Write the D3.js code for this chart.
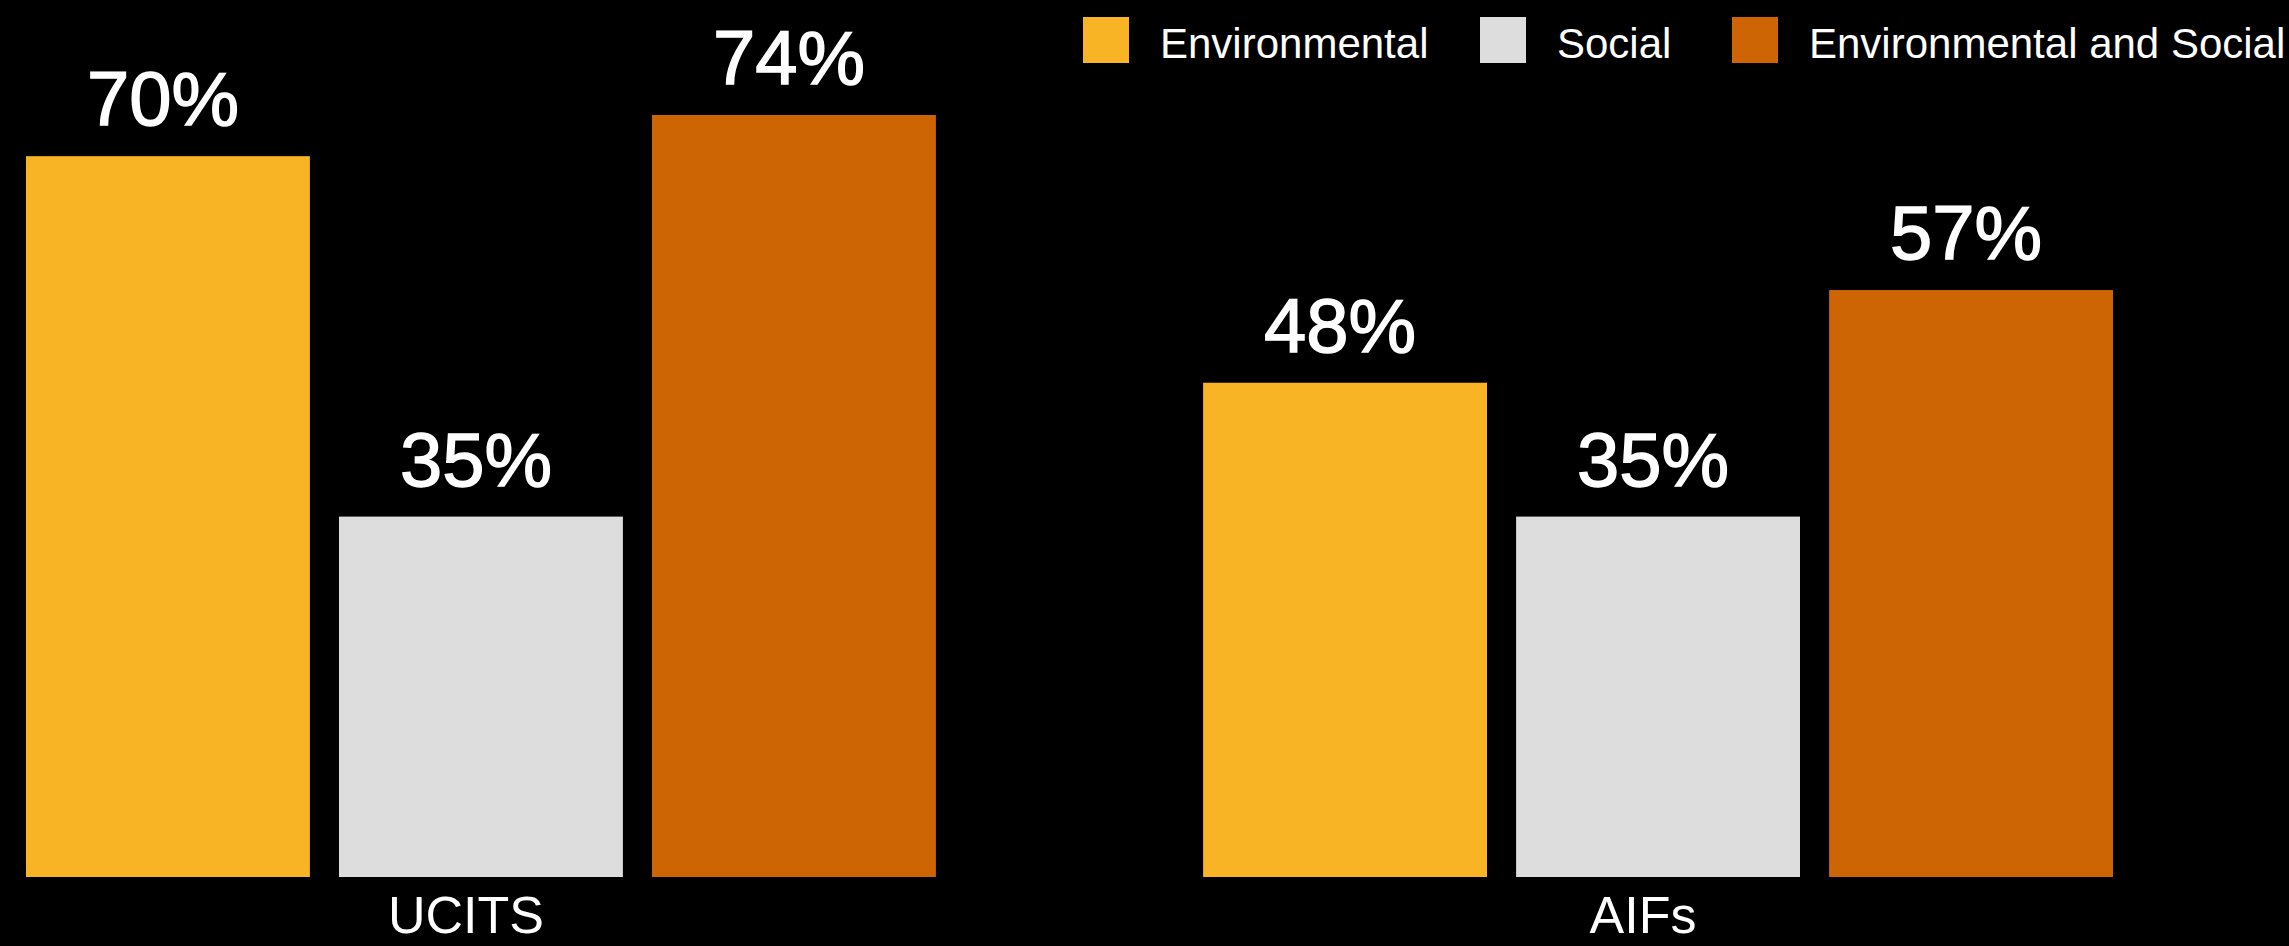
<!DOCTYPE html>
<html>
<head>
<meta charset="utf-8">
<script src="https://cdn.jsdelivr.net/npm/d3@7"></script>
<style>
  html, body { margin: 0; padding: 0; background: #000; }
  svg { display: block; }
  text { font-family: "Helvetica Neue", Helvetica, "Liberation Sans", Arial, sans-serif; fill: #fff; }
</style>
</head>
<body>
<svg id="chart" width="2289" height="946"></svg>
<script>
// Fund types on the x axis
const categories = ["UCITS", "AIFs"];
// Series shown in each group
const seriesNames = ["Environmental", "Social", "Environmental and Social"];
const seriesColors = ["#F9B425", "#DDDDDD", "#CD6505"];
// Share of funds per series (fractions)
const environmental = [0.70, 0.48];
const social = [0.35, 0.35];
const envAndSocial = [0.74, 0.57];

const seriesValues = [environmental, social, envAndSocial];

const svg = d3.select("#chart");

const x0 = d3.scaleBand()
  .domain(categories)
  .range([26, 2113])
  .paddingInner(0.227)
  .paddingOuter(0);

const x1 = d3.scaleBand()
  .domain(seriesNames)
  .range([0, x0.bandwidth()])
  .paddingInner(0.093)
  .paddingOuter(0);

const y = d3.scaleLinear()
  .domain([0, 0.74])
  .range([877, 115]);

const color = d3.scaleOrdinal().domain(seriesNames).range(seriesColors);
const pct = d3.format(".0%");

const rows = categories.map((c, i) => ({
  category: c,
  values: seriesNames.map((s, j) => ({ series: s, value: seriesValues[j][i] }))
}));

const groups = svg.append("g")
  .selectAll("g")
  .data(rows)
  .join("g")
  .attr("transform", d => `translate(${x0(d.category)},0)`);

groups.selectAll("rect")
  .data(d => d.values)
  .join("rect")
  .attr("x", d => x1(d.series))
  .attr("y", d => y(d.value))
  .attr("width", x1.bandwidth())
  .attr("height", d => y(0) - y(d.value))
  .attr("fill", d => color(d.series));

// Value labels above each bar, slightly heavier than regular weight
groups.selectAll("text.value")
  .data(d => d.values)
  .join("text")
  .attr("class", "value")
  .attr("x", d => x1(d.series) + x1.bandwidth() / 2 - 5)
  .attr("y", d => y(d.value) - 31)
  .attr("text-anchor", "middle")
  .style("font-size", "76px")
  .style("stroke", "#fff")
  .style("stroke-width", "1.4px")
  .text(d => pct(d.value));

// Category axis labels below the bars
const xAxis = d3.axisBottom(x0).tickSize(0).tickPadding(0);
const axisG = svg.append("g")
  .attr("transform", `translate(-15,${y(0)})`)
  .call(xAxis);
axisG.select(".domain").remove();
axisG.selectAll("text")
  .attr("dy", null)
  .attr("y", 56)
  .style("font-size", "52px")
  .style("font-family", null)
  .attr("fill", "#fff");

// Legend along the top
const legendX = [1083, 1480, 1732];
const legend = svg.append("g")
  .selectAll("g")
  .data(seriesNames)
  .join("g")
  .attr("transform", (d, i) => `translate(${legendX[i]},17)`);

legend.append("rect")
  .attr("width", 46)
  .attr("height", 46)
  .attr("fill", d => color(d));

legend.append("text")
  .attr("x", 77)
  .attr("y", 41)
  .style("font-size", "42px")
  .text(d => d);
</script>
</body>
</html>
